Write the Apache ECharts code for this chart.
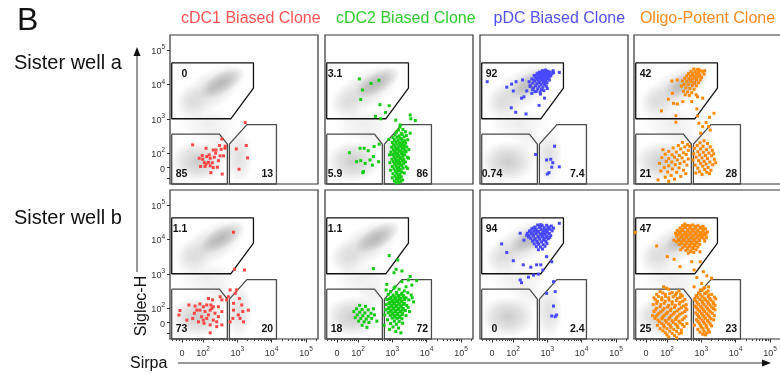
<!DOCTYPE html>
<html>
<head>
<meta charset="utf-8">
<script src="https://cdn.jsdelivr.net/npm/echarts@6/dist/echarts.min.js"></script>
<style>
html,body{margin:0;padding:0;background:#fff;}
#chart{width:780px;height:374px;}
</style>
</head>
<body>
<div id="chart"></div>
<script>
// axis units: display (logicle-like) units, 10^n sits at n, "0" sits a bit lower
var xRange = [1.04, 5.35];
var yRange = [1.10, 5.44];
var xMajor = [1.39, 2, 3, 4, 5];
var yMajor = [1.58, 2, 3, 4, 5];
var xTickLabels = ['0', '10^2', '10^3', '10^4', '10^5'];
var yTickLabels = ['0', '10^2', '10^3', '10^4', '10^5'];
var xMinor = [1.12, 1.22, 1.30, 1.50, 1.60, 1.69, 1.77, 1.84, 1.90, 1.95,
  2.30, 2.48, 2.60, 2.70, 2.78, 2.85, 2.90, 2.95,
  3.30, 3.48, 3.60, 3.70, 3.78, 3.85, 3.90, 3.95,
  4.30, 4.48, 4.60, 4.70, 4.78, 4.85, 4.90, 4.95, 5.30];
var yExtraTicks = [1.28];

var cloneNames = ['cDC1 Biased Clone', 'cDC2 Biased Clone', 'pDC Biased Clone', 'Oligo-Potent Clone'];
var wellNames = ['Sister well a', 'Sister well b'];

// gates (same in every panel)
var gateUpper = [[1.09, 4.63], [3.47, 4.63], [3.47, 3.89], [2.81, 3.00], [1.09, 3.00]];
var gateLowLeft = [[1.09, 2.55], [2.48, 2.55], [2.71, 2.26], [2.71, 1.10], [1.09, 1.10]];
var gateLowRight = [[2.77, 2.26], [3.28, 2.83], [4.14, 2.83], [4.14, 1.10], [2.77, 1.10]];

// gate percentages: upper, lower-left, lower-right
var pctWellA = [['0', '85', '13'], ['3.1', '5.9', '86'], ['92', '0.74', '7.4'], ['42', '21', '28']];
var pctWellB = [['1.1', '73', '20'], ['1.1', '18', '72'], ['94', '0', '2.4'], ['47', '25', '23']];

// background total population density: cx, cy, rx, ry, angle, alpha
var densityBlobs = [
  [2.25, 3.85, 1.15, 0.55, 32, 0.26],
  [2.55, 4.05, 0.75, 0.32, 30, 0.42],
  [1.65, 3.45, 0.50, 0.55, 0, 0.14],
  [2.15, 2.85, 0.85, 0.50, 0, 0.13],
  [2.45, 2.35, 0.50, 0.40, 0, 0.10],
  [1.85, 1.75, 0.80, 0.60, 0, 0.38],
  [3.05, 1.90, 0.40, 0.80, 0, 0.24]
];

// ---- well a ----
var cdc1A = [[3.23,2.89],[2.55,2.41],[1.70,2.24],[2.48,2.22],[2.65,2.20],[2.97,2.12],[3.26,2.22],[2.09,2.14],[2.30,2.09],[2.38,2.09],[2.53,2.11],[1.89,1.85],[1.99,1.82],[2.11,1.90],[2.21,1.85],[2.33,1.88],[2.50,1.92],[2.60,1.92],[2.16,1.73],[2.04,1.72],[2.09,1.68],[1.93,1.61],[2.06,1.61],[2.21,1.63],[2.30,1.58],[2.42,1.59],[2.23,1.43],[2.56,1.39],[3.05,1.53],[3.30,1.86],[2.64,2.14],[2.45,1.78],[2.18,1.95],[2.27,1.72],[2.37,2.00],[1.98,1.93]];

var cdc2ASparse = [[2.04,4.16],[2.38,4.03],[2.61,4.12],[2.13,3.84],[2.08,3.56],[2.64,3.41],[2.91,3.38],[2.80,3.18],[2.51,3.07],[2.66,3.00],[3.10,2.96],[3.52,3.11],[3.54,3.00],[3.67,2.95],[3.23,2.82],[3.52,2.58],
  [1.75,2.01],[2.06,2.14],[2.18,2.14],[2.30,2.07],[2.47,2.19],[2.62,2.26],[1.96,1.75],[2.08,1.78],[2.21,1.70],[2.35,1.80],[2.45,1.90],[2.60,1.75],[2.14,1.43],[2.42,1.65],[2.16,1.46]];
var cdc2ADense = [[3.22,2.76],[3.18,2.67],[3.31,2.69],[3.12,2.61],[3.26,2.58],[3.38,2.62],[3.08,2.53],[3.20,2.50],[3.29,2.54],[3.41,2.51],[3.02,2.45],[3.14,2.46],[3.24,2.43],[3.34,2.47],[3.06,2.39],[3.17,2.37],[3.27,2.40],[3.36,2.36],[3.45,2.39],[3.00,2.31],[3.10,2.33],[3.21,2.30],[3.30,2.32],[3.39,2.29],[3.04,2.24],[3.13,2.26],[3.22,2.23],[3.28,2.25],[3.35,2.22],[2.98,2.17],[3.08,2.18],[3.17,2.16],[3.25,2.19],[3.33,2.15],[3.42,2.18],[3.03,2.10],[3.12,2.11],[3.20,2.08],[3.29,2.12],[3.37,2.09],[2.96,2.03],[3.07,2.04],[3.15,2.01],[3.24,2.05],[3.32,2.02],[3.40,2.04],[3.01,1.96],[3.10,1.97],[3.19,1.94],[3.27,1.98],[3.36,1.95],[3.05,1.89],[3.14,1.90],[3.22,1.87],[3.31,1.91],[3.44,1.88],[2.99,1.82],[3.09,1.83],[3.18,1.80],[3.26,1.84],[3.34,1.81],[3.03,1.75],[3.12,1.76],[3.21,1.73],[3.29,1.77],[3.38,1.74],[3.07,1.68],[3.16,1.69],[3.24,1.66],[3.33,1.70],[3.00,1.61],[3.11,1.62],[3.19,1.59],[3.28,1.63],[3.40,1.60],[3.05,1.54],[3.15,1.55],[3.23,1.52],[3.31,1.56],[3.09,1.47],[3.18,1.48],[3.27,1.45],[3.02,1.40],[3.13,1.41],[3.22,1.38],[3.35,1.42],[3.08,1.33],[3.17,1.34],[3.26,1.31],[3.12,1.26],[3.21,1.27],[3.06,1.19],[3.16,1.20],[3.25,1.18],[3.11,1.13],[3.19,1.14],[2.95,1.50],[2.93,1.72],[3.48,2.10],[3.47,1.85],[3.44,1.55],[2.92,1.95],[2.90,2.40],[3.00,1.28],[3.30,1.22]];

var pdcASparse = [[1.25,4.08],[1.82,3.92],[1.96,4.01],[2.09,4.08],[2.01,3.81],[2.25,3.60],[2.32,3.64],[1.95,3.32],[2.08,3.19],[2.38,3.14],[2.76,3.39],[2.92,3.60],[3.35,4.35],[3.18,4.34],[2.55,3.74],[2.64,3.79],[2.40,3.81],[2.50,3.94],[2.28,4.13],
  [2.66,1.96],[3.21,2.20],[2.98,1.80],[3.10,1.82],[3.16,1.72],[3.13,1.59],[3.35,1.60],[3.05,1.43],[3.00,1.39]];
var pdcADense = [[2.86,4.40],[2.95,4.42],[3.02,4.38],[2.78,4.36],[2.90,4.34],[2.99,4.33],[3.08,4.36],[2.70,4.31],[2.82,4.30],[2.93,4.28],[3.04,4.29],[2.62,4.26],[2.75,4.25],[2.87,4.24],[2.97,4.22],[3.10,4.25],[2.68,4.20],[2.80,4.19],[2.91,4.18],[3.01,4.16],[2.55,4.16],[2.73,4.14],[2.85,4.13],[2.95,4.11],[3.06,4.13],[2.64,4.10],[2.77,4.08],[2.89,4.06],[2.99,4.05],[2.58,4.04],[2.70,4.02],[2.82,4.00],[2.93,3.99],[2.66,3.96],[2.76,3.93],[2.87,3.92],[2.97,3.95],[2.60,3.90],[2.72,3.87],[2.83,3.85],[2.79,3.78],[2.68,3.80],[2.90,3.82],[3.00,3.88],[2.84,4.36],[2.73,4.33],[2.96,4.37],[2.88,4.27],[2.79,4.22],[2.94,4.20],[3.05,4.21],[2.71,4.17],[2.83,4.16],[2.98,4.25],[2.76,4.29],[2.61,4.13],[2.87,4.10],[2.92,4.03],[2.75,4.05],[2.65,4.23],[3.13,4.31],[3.17,4.40],[2.50,3.98],[2.57,3.85],[2.47,4.08],[2.80,3.72]];

var oligoASparse = [[2.14,4.10],[2.30,4.13],[2.16,3.74],[2.04,3.57],[2.19,3.45],[2.30,3.43],[2.46,3.50],[2.72,3.50],[2.89,3.64],[3.04,3.60],[1.84,3.23],[2.87,3.29],[2.26,3.09],[2.26,2.90],[2.89,3.08],[3.37,3.16],[3.24,3.04],[3.14,2.89],[3.26,2.67],[3.04,2.77],[2.98,2.58],[3.21,2.77],[2.93,2.87]];
var oligoAUpper = [[2.78,4.45],[2.88,4.43],[2.97,4.40],[2.70,4.38],[2.82,4.37],[2.92,4.35],[3.04,4.38],[2.63,4.32],[2.75,4.31],[2.86,4.30],[2.96,4.28],[3.08,4.30],[2.58,4.25],[2.69,4.24],[2.80,4.23],[2.91,4.22],[3.01,4.20],[2.52,4.18],[2.64,4.17],[2.75,4.16],[2.86,4.14],[2.97,4.13],[2.45,4.10],[2.58,4.09],[2.70,4.08],[2.81,4.06],[2.92,4.05],[2.50,4.00],[2.62,3.99],[2.74,3.97],[2.86,3.96],[2.55,3.90],[2.67,3.88],[2.79,3.86],[2.48,3.80],[2.60,3.78],[2.72,3.76],[2.65,3.68],[2.53,3.70],[2.92,4.44],[2.74,4.27],[2.84,4.19],[2.95,4.25],[2.68,4.12],[2.78,4.02],[3.10,4.40],[2.42,3.95],[2.85,3.70]];
var oligoALowLeft = [[2.45,2.31],[2.60,2.25],[2.33,2.22],[2.52,2.18],[2.18,2.15],[2.40,2.12],[2.62,2.08],[2.05,2.05],[2.27,2.03],[2.48,2.01],[2.56,1.96],[1.95,1.97],[2.15,1.95],[2.36,1.93],[2.22,1.88],[2.44,1.86],[1.85,1.87],[2.05,1.84],[2.62,1.83],[2.30,1.80],[1.98,1.76],[2.14,1.74],[2.50,1.75],[2.38,1.70],[1.78,1.70],[2.24,1.66],[2.05,1.63],[2.58,1.65],[1.92,1.58],[2.35,1.57],[2.16,1.54],[2.48,1.50],[1.82,1.48],[2.02,1.45],[2.28,1.44],[2.12,1.35],[1.95,1.30],[2.40,1.32],[1.74,1.22],[2.22,1.24],[2.05,1.18],[2.55,1.40],[1.88,2.10],[2.66,2.20]];
var oligoALowRight = [[3.08,2.36],[2.96,2.30],[3.18,2.28],[2.88,2.22],[3.05,2.20],[3.26,2.18],[2.80,2.14],[2.98,2.12],[3.15,2.10],[3.32,2.08],[2.90,2.04],[3.06,2.02],[3.22,2.00],[2.78,1.98],[2.95,1.95],[3.12,1.93],[3.30,1.92],[2.85,1.88],[3.02,1.86],[3.18,1.84],[3.38,1.82],[2.76,1.80],[2.92,1.78],[3.08,1.76],[3.25,1.74],[2.98,1.70],[3.14,1.68],[3.33,1.66],[2.82,1.65],[3.04,1.62],[3.20,1.58],[2.90,1.56],[3.10,1.52],[3.28,1.50],[2.95,1.46],[3.16,1.44],[3.02,1.38],[3.24,1.40],[2.84,1.42],[3.42,1.72],[3.36,1.98]];

// ---- well b ----
var cdc1B = [[2.89,4.21],[2.92,3.13],[3.21,3.11],[1.33,1.93],[1.30,1.80],[1.59,2.09],[1.77,2.06],[1.91,2.12],[2.01,2.04],[2.16,2.28],[2.28,2.24],[2.50,2.33],[2.55,2.24],[2.79,2.53],[2.74,2.33],[2.98,2.53],[3.06,2.28],[2.89,2.14],[3.13,2.09],[3.16,1.90],[3.32,1.94],[2.89,1.94],[3.03,1.80],[3.08,1.70],[2.87,1.70],[2.79,1.60],[3.18,1.60],[1.75,1.85],[1.91,1.94],[2.06,1.90],[2.21,1.94],[2.35,1.85],[1.96,1.75],[2.11,1.70],[2.30,1.65],[2.45,1.75],[2.55,1.90],[1.87,1.60],[2.03,1.56],[2.21,1.51],[2.40,1.46],[2.55,1.51],[2.21,1.28],[1.70,1.70],[1.53,1.65],[2.11,2.09],[2.30,2.04],[2.45,2.04],[2.23,2.09],[2.16,1.80],[2.26,1.99],[2.01,1.65],[2.40,1.60],[1.82,1.94],[2.69,2.24],[2.94,2.43]];

var cdc2BSparse = [[2.91,3.53],[3.16,3.40],[2.45,3.15],[3.11,3.13],[3.28,3.08],[3.05,3.03],[3.52,2.92],[3.47,2.82],[3.28,2.77],[3.71,2.80],[2.84,2.69],[3.08,2.62],[2.82,2.53],[3.40,2.62],[3.57,2.67]];
var cdc2BMain = [[3.05,2.58],[3.20,2.55],[3.35,2.50],[2.95,2.48],[3.12,2.46],[3.28,2.44],[3.45,2.45],[2.88,2.40],[3.02,2.38],[3.18,2.37],[3.33,2.36],[3.55,2.38],[2.96,2.31],[3.10,2.30],[3.24,2.29],[3.40,2.30],[2.84,2.25],[3.00,2.23],[3.14,2.22],[3.28,2.21],[3.48,2.24],[2.92,2.17],[3.06,2.16],[3.20,2.15],[3.35,2.14],[3.62,2.18],[2.82,2.10],[2.98,2.09],[3.12,2.08],[3.26,2.07],[3.42,2.08],[2.90,2.02],[3.04,2.01],[3.18,2.00],[3.32,1.99],[2.80,1.95],[2.96,1.94],[3.10,1.93],[3.24,1.92],[3.38,1.93],[2.88,1.87],[3.02,1.86],[3.16,1.85],[3.30,1.86],[2.78,1.80],[2.94,1.79],[3.08,1.78],[3.22,1.77],[3.40,1.78],[3.00,1.71],[3.14,1.70],[3.28,1.69],[2.86,1.66],[3.06,1.62],[3.20,1.61],[2.95,1.55],[3.12,1.53],[3.30,1.56],[3.02,1.45],[3.18,1.42],[2.92,1.38],[3.10,1.32],[3.25,1.28],[2.76,1.50],[3.50,1.90],[3.58,2.30],[3.46,2.02],
  [3.13,2.41],[3.27,2.40],[3.05,2.34],[3.19,2.33],[3.33,2.32],[2.92,2.27],[3.07,2.26],[3.21,2.25],[3.36,2.25],[2.99,2.19],[3.13,2.19],[3.27,2.18],[2.90,2.13],[3.05,2.12],[3.19,2.11],[3.33,2.11],[2.97,2.05],[3.11,2.04],[3.25,2.03],[2.88,1.98],[3.03,1.97],[3.17,1.96],[3.31,1.96],[2.95,1.90],[3.09,1.89],[3.23,1.89],[3.01,1.82],[3.15,1.81],[3.29,1.81],[3.07,1.74],[3.21,1.73]];
var cdc2BLowLeft = [[2.05,2.08],[2.22,2.05],[1.96,1.98],[2.12,1.96],[2.30,1.95],[2.45,1.98],[1.88,1.90],[2.05,1.88],[2.20,1.86],[2.38,1.85],[1.98,1.80],[2.14,1.78],[2.30,1.76],[2.08,1.70],[2.24,1.68],[1.92,1.72],[2.40,1.70],[2.18,1.60],[2.32,1.58],[2.02,1.62],[2.12,1.50],[2.26,1.44],[2.48,1.80],[2.55,1.62]];

var pdcBSparse = [[3.35,4.47],[1.67,3.87],[1.82,3.62],[2.01,3.38],[2.30,3.26],[2.52,3.19],[2.69,3.26],[2.81,3.26],[2.98,3.50],[3.13,3.35],[2.21,2.82],[2.25,2.74],[2.45,2.90],[2.60,2.96],[2.74,2.99],[2.87,3.11],[3.18,2.77],[2.98,2.43],[3.23,2.48],[3.18,2.06],[3.13,1.77],[3.23,1.75],[3.27,1.80],[2.21,4.18],[2.32,3.98]];
var pdcBDense = [[2.72,4.42],[2.85,4.40],[2.98,4.41],[2.64,4.36],[2.78,4.35],[2.91,4.34],[3.04,4.36],[3.12,4.39],[2.55,4.31],[2.68,4.30],[2.82,4.29],[2.95,4.28],[3.08,4.30],[2.48,4.25],[2.61,4.24],[2.74,4.23],[2.87,4.22],[3.00,4.23],[3.14,4.25],[2.42,4.18],[2.54,4.18],[2.67,4.17],[2.80,4.16],[2.93,4.15],[3.06,4.17],[2.47,4.11],[2.60,4.10],[2.73,4.09],[2.86,4.08],[2.99,4.09],[3.10,4.11],[2.52,4.03],[2.65,4.02],[2.78,4.01],[2.91,4.00],[3.03,4.02],[2.57,3.95],[2.70,3.94],[2.83,3.93],[2.96,3.94],[2.62,3.87],[2.75,3.86],[2.88,3.85],[2.68,3.79],[2.80,3.78],[2.93,3.80],[2.74,3.70],[2.86,3.72],[2.78,4.38],[2.92,4.26],[2.70,4.20],[2.84,4.12],[2.95,4.05],[2.58,4.14],[2.66,4.27],[3.02,4.32],[2.76,4.04],[2.89,3.98],[2.63,3.99],[2.45,4.07],[3.18,4.33],[2.99,3.88],[2.52,4.22],[2.81,4.43],[3.07,4.06],[2.72,3.90],[2.40,4.12],[2.88,4.18],[2.60,4.33],[2.97,4.19]];

var oligoBSparse = [[1.08,4.20],[1.70,3.81],[2.01,3.50],[2.21,3.42],[2.38,3.21],[2.72,3.35],[2.97,3.35],[2.79,3.11],[3.06,3.06],[3.16,2.94],[3.30,2.87],[2.87,2.89],[3.01,2.72],[3.21,2.62],[2.79,2.62],[2.97,2.53],[3.11,2.43]];
var oligoBUpper = [[2.45,4.40],[2.60,4.41],[2.75,4.42],[2.90,4.40],[3.05,4.38],[2.38,4.33],[2.52,4.34],[2.67,4.33],[2.82,4.32],[2.97,4.33],[3.12,4.31],[2.30,4.26],[2.45,4.26],[2.60,4.25],[2.75,4.25],[2.90,4.24],[3.05,4.25],[3.18,4.22],[2.25,4.18],[2.40,4.18],[2.55,4.17],[2.70,4.17],[2.85,4.16],[3.00,4.17],[3.14,4.15],[2.28,4.10],[2.43,4.09],[2.58,4.09],[2.73,4.08],[2.88,4.08],[3.03,4.09],[2.33,4.01],[2.48,4.01],[2.63,4.00],[2.78,4.00],[2.93,4.01],[3.08,4.02],[2.28,3.93],[2.42,3.93],[2.57,3.92],[2.72,3.92],[2.87,3.93],[2.36,3.85],[2.50,3.84],[2.65,3.84],[2.80,3.85],[2.95,3.86],[2.45,3.76],[2.60,3.76],[2.75,3.77],[2.90,3.78],[2.55,3.68],[2.70,3.69],[2.85,3.70],[2.62,3.60],[2.78,3.62],[2.52,4.45],[2.68,4.37],[2.83,4.20],[2.97,4.12],[2.50,4.13],[2.64,3.96],[2.35,4.22],[3.10,3.95],[2.20,3.98],[2.40,3.70],[2.96,3.64],[3.15,4.05],
  [2.53,4.37],[2.68,4.40],[2.83,4.38],[2.98,4.36],[2.45,4.30],[2.60,4.29],[2.75,4.29],[2.90,4.28],[3.05,4.29],[2.38,4.22],[2.52,4.21],[2.67,4.21],[2.82,4.21],[2.97,4.20],[3.10,4.19],[2.33,4.14],[2.48,4.13],[2.63,4.13],[2.78,4.12],[2.93,4.12],[3.08,4.13],[2.40,4.05],[2.55,4.05],[2.70,4.04],[2.85,4.04],[3.00,4.05],[2.35,3.97],[2.50,3.97],[2.65,3.96],[2.80,3.96],[2.95,3.97],[2.43,3.89],[2.57,3.88],[2.72,3.88],[2.87,3.89],[2.52,3.80],[2.67,3.80],[2.82,3.81],[2.60,3.72],[2.77,3.73],[2.68,3.64]];
var oligoBLowLeft = [[1.90,2.62],[2.05,2.55],[1.80,2.48],[2.15,2.45],[2.35,2.50],[1.70,2.40],[1.95,2.40],[2.25,2.38],[2.45,2.35],[1.62,2.30],[1.85,2.30],[2.05,2.30],[2.30,2.28],[2.52,2.25],[1.72,2.20],[1.95,2.20],[2.15,2.18],[2.38,2.17],[1.60,2.10],[1.82,2.10],[2.05,2.08],[2.25,2.08],[2.48,2.06],[1.70,2.00],[1.92,1.99],[2.12,1.98],[2.35,1.97],[2.58,1.95],[1.62,1.90],[1.82,1.89],[2.02,1.88],[2.22,1.87],[2.45,1.86],[1.72,1.80],[1.92,1.79],[2.12,1.78],[2.32,1.77],[2.55,1.76],[1.65,1.70],[1.85,1.69],[2.05,1.68],[2.25,1.67],[2.45,1.66],[1.78,1.60],[1.98,1.59],[2.18,1.58],[2.38,1.57],[1.90,1.50],[2.10,1.49],[2.30,1.48],[2.50,1.46],[1.80,1.40],[2.00,1.40],[2.20,1.38],[2.42,1.36],[1.95,1.28],[2.15,1.26],[2.35,1.25],[2.05,1.16],[2.28,1.14],[2.58,1.55],[1.58,1.78],
  [1.98,2.58],[1.88,2.44],[2.08,2.42],[2.28,2.44],[2.40,2.40],[1.75,2.34],[1.96,2.34],[2.18,2.33],[2.38,2.31],[1.66,2.25],[1.85,2.24],[2.06,2.23],[2.27,2.22],[2.46,2.20],[1.70,2.14],[1.92,2.14],[2.15,2.12],[2.36,2.12],[2.56,2.10],[1.80,2.04],[2.02,2.03],[2.22,2.02],[2.42,2.01],[1.66,1.95],[1.88,1.94],[2.10,1.93],[2.30,1.92],[2.52,1.90],[1.76,1.85],[1.98,1.84],[2.18,1.83],[2.38,1.82],[1.68,1.76],[1.88,1.74],[2.08,1.73],[2.28,1.72],[2.50,1.71],[1.74,1.65],[1.95,1.64],[2.15,1.63],[2.35,1.62],[1.85,1.55],[2.05,1.54],[2.25,1.53],[2.45,1.52],[1.92,1.45],[2.12,1.44],[2.32,1.43],[1.88,1.34],[2.08,1.33],[2.28,1.32],[2.00,1.22],[2.22,1.20],[2.42,1.28],[1.72,1.50],[2.55,2.00]];
var oligoBLowRight = [[3.10,2.60],[3.02,2.52],[3.20,2.50],[2.92,2.44],[3.10,2.42],[3.30,2.40],[2.85,2.36],[3.02,2.34],[3.20,2.33],[3.38,2.32],[2.80,2.26],[2.96,2.25],[3.12,2.24],[3.28,2.23],[2.88,2.16],[3.04,2.15],[3.20,2.14],[3.36,2.13],[2.82,2.06],[2.98,2.05],[3.14,2.04],[3.30,2.03],[2.90,1.96],[3.06,1.95],[3.22,1.94],[3.40,1.95],[2.84,1.86],[3.00,1.85],[3.16,1.84],[3.32,1.85],[2.92,1.76],[3.08,1.75],[3.24,1.74],[2.86,1.66],[3.02,1.65],[3.18,1.64],[3.36,1.66],[2.94,1.56],[3.10,1.55],[3.26,1.54],[3.00,1.45],[3.16,1.44],[2.90,1.38],[3.08,1.32],[3.24,1.30],[3.12,1.22],[2.80,1.50],
  [3.06,2.56],[3.15,2.46],[2.97,2.40],[3.22,2.38],[2.90,2.31],[3.08,2.29],[3.25,2.28],[3.42,2.27],[2.84,2.21],[3.02,2.20],[3.18,2.19],[3.34,2.18],[2.92,2.11],[3.08,2.10],[3.25,2.09],[3.40,2.08],[2.86,2.01],[3.02,2.00],[3.18,1.99],[3.35,1.99],[2.95,1.91],[3.10,1.90],[3.27,1.89],[2.88,1.81],[3.04,1.80],[3.20,1.79],[3.38,1.78],[2.96,1.71],[3.12,1.70],[3.28,1.69],[2.90,1.61],[3.06,1.60],[3.22,1.59],[2.98,1.50],[3.14,1.49],[3.30,1.48],[3.05,1.40],[3.20,1.37],[2.96,1.30],[3.16,1.28],[3.04,1.24]];

var panelPoints = [
  cdc1A, cdc2ASparse.concat(cdc2ADense), pdcASparse.concat(pdcADense), oligoASparse.concat(oligoAUpper, oligoALowLeft, oligoALowRight),
  cdc1B, cdc2BSparse.concat(cdc2BMain, cdc2BLowLeft), pdcBSparse.concat(pdcBDense), oligoBSparse.concat(oligoBUpper, oligoBLowLeft, oligoBLowRight)
];

var titleColors = ['#ff5252', '#2ecc2e', '#5252f0', '#ff8a1c'];
var dotColors = ['#ff4545', '#12cc12', '#4848ff', '#ff8a00'];

var FONT = 'Liberation Sans, Arial, sans-serif';
var gridLeft = [170, 325, 480, 634];
var gridTop = [35, 190];
var GW = 148, GH = 149;

var chart = echarts.init(document.getElementById('chart'));

var rich = {
  b: {fontSize: 9, color: '#333', fontFamily: FONT, lineHeight: 12, verticalAlign: 'bottom'},
  s: {fontSize: 6.5, color: '#333', fontFamily: FONT, lineHeight: 12, verticalAlign: 'top'}
};
function fmt(s) {
  var p = s.split('^');
  return p.length > 1 ? '{b|' + p[0] + '}{s|' + p[1] + '}' : '{b|' + s + '}';
}
function tickText(v, vals, labels) {
  for (var i = 0; i < vals.length; i++) {
    if (Math.abs(vals[i] - v) < 1e-6) return fmt(labels[i]);
  }
  return '';
}

function renderBlob(params, api) {
  var c = api.coord([api.value(0), api.value(1)]);
  var s = api.size([api.value(2), api.value(3)]);
  var a = api.value(5);
  return {
    type: 'circle',
    shape: {cx: 0, cy: 0, r: 10},
    x: c[0], y: c[1],
    scaleX: s[0] / 10, scaleY: s[1] / 10,
    rotation: api.value(4) * Math.PI / 180,
    silent: true,
    style: {
      fill: {
        type: 'radial', x: 0.5, y: 0.5, r: 0.5,
        colorStops: [
          {offset: 0, color: 'rgba(120,120,120,' + a + ')'},
          {offset: 0.5, color: 'rgba(120,120,120,' + (a * 0.6) + ')'},
          {offset: 1, color: 'rgba(120,120,120,0)'}
        ]
      }
    }
  };
}

var grids = [], xAxes = [], yAxes = [], series = [], graphics = [];

for (var p = 0; p < 8; p++) {
  var r = Math.floor(p / 4), c = p % 4;
  var bottomRow = r === 1, leftCol = c === 0;
  grids.push({
    left: gridLeft[c], top: gridTop[r], width: GW, height: GH,
    containLabel: false, outerBoundsMode: 'none',
    show: true, borderColor: '#333', borderWidth: 1.2, backgroundColor: 'transparent'
  });
  xAxes.push({
    gridIndex: p, type: 'value', min: xRange[0], max: xRange[1], position: 'bottom',
    splitLine: {show: false}, axisLine: {show: false},
    axisTick: {show: bottomRow, customValues: xMajor, length: 3.5, lineStyle: {color: '#333', width: 1}},
    axisLabel: {
      show: bottomRow, customValues: xMajor, margin: 7, rich: rich,
      formatter: function (v) { return tickText(v, xMajor, xTickLabels); }
    }
  });
  yAxes.push({
    gridIndex: p, type: 'value', min: yRange[0], max: yRange[1], position: 'left',
    splitLine: {show: false}, axisLine: {show: false},
    axisTick: {show: leftCol, customValues: yMajor.concat(yExtraTicks), length: 3, lineStyle: {color: '#333', width: 1}},
    axisLabel: {
      show: leftCol, customValues: yMajor, margin: 5, rich: rich,
      formatter: function (v) { return tickText(v, yMajor, yTickLabels); }
    }
  });

  series.push({
    type: 'custom', coordinateSystem: 'cartesian2d', xAxisIndex: p, yAxisIndex: p,
    data: densityBlobs, renderItem: renderBlob, clip: true, silent: true, z: 1
  });

  [gateUpper, gateLowLeft, gateLowRight].forEach(function (g, gi) {
    series.push({
      type: 'line', xAxisIndex: p, yAxisIndex: p, data: g.concat([g[0]]),
      symbol: 'none', silent: true, clip: false, z: 3,
      lineStyle: {color: gi === 0 ? '#111' : '#4a4a4a', width: 1.3}
    });
  });

  series.push({
    type: 'scatter', xAxisIndex: p, yAxisIndex: p, data: panelPoints[p],
    symbol: 'rect', symbolSize: 3, silent: true, z: 4,
    itemStyle: {color: dotColors[c], opacity: 1}
  });

  var pct = (r === 0 ? pctWellA : pctWellB)[c];
  var L = gridLeft[c], T = gridTop[r];
  [0, 1].forEach(function (k) {
    var t = pct[k];
    var cx = t === '0' ? 14.3 : (t.indexOf('.') >= 0 ? (t.length > 3 ? 12 : 10) : 11.6);
    graphics.push({
      type: 'text', x: L + cx, y: T + (k === 0 ? 39 : 139), z: 10,
      style: {text: t, fontSize: 10.5, fontWeight: 'bold', fontFamily: FONT, fill: '#111', align: 'center', verticalAlign: 'middle'}
    });
  });
  graphics.push({
    type: 'text', x: L + 97.3, y: T + 139, z: 10,
    style: {text: pct[2], fontSize: 10.5, fontWeight: 'bold', fontFamily: FONT, fill: '#111', align: 'center', verticalAlign: 'middle'}
  });
}

// minor ticks along the bottom row
for (var cc = 0; cc < 4; cc++) {
  xAxes.push({
    gridIndex: 4 + cc, type: 'value', min: xRange[0], max: xRange[1], position: 'bottom',
    splitLine: {show: false}, axisLine: {show: false}, axisLabel: {show: false},
    axisTick: {show: true, customValues: xMinor, length: 2, lineStyle: {color: '#444', width: 1}}
  });
}

// titles
var titleX = [250.8, 405.8, 559.3, 707.5];
cloneNames.forEach(function (n, i) {
  graphics.push({
    type: 'text', x: titleX[i], y: 19,
    style: {text: n, fontSize: 16, fontFamily: FONT, fill: titleColors[i], align: 'center', verticalAlign: 'middle'}
  });
});
graphics.push({type: 'text', x: 17, y: 21, style: {text: 'B', fontSize: 32, fontFamily: FONT, fill: '#111', align: 'left', verticalAlign: 'middle'}});
graphics.push({type: 'text', x: 14, y: 63, style: {text: wellNames[0], fontSize: 20, fontFamily: FONT, fill: '#111', align: 'left', verticalAlign: 'middle'}});
graphics.push({type: 'text', x: 14, y: 218, style: {text: wellNames[1], fontSize: 20, fontFamily: FONT, fill: '#111', align: 'left', verticalAlign: 'middle'}});

// axis arrows and titles
graphics.push({type: 'line', shape: {x1: 137, y1: 272, x2: 137, y2: 54}, style: {stroke: '#777', lineWidth: 1.5}});
graphics.push({type: 'polygon', shape: {points: [[137, 47], [133.5, 56], [140.5, 56]]}, style: {fill: '#111'}});
graphics.push({type: 'line', shape: {x1: 178, y1: 363, x2: 764, y2: 363}, style: {stroke: '#777', lineWidth: 1.5}});
graphics.push({type: 'polygon', shape: {points: [[771, 363], [762, 359.5], [762, 366.5]]}, style: {fill: '#111'}});
graphics.push({type: 'text', x: 142, y: 306, rotation: Math.PI / 2,
  style: {text: 'Siglec-H', fontSize: 16, fontFamily: FONT, fill: '#111', align: 'center', verticalAlign: 'middle'}});
graphics.push({type: 'text', x: 130, y: 364,
  style: {text: 'Sirpa', fontSize: 16, fontFamily: FONT, fill: '#111', align: 'left', verticalAlign: 'middle'}});

chart.setOption({
  animation: false,
  grid: grids,
  xAxis: xAxes,
  yAxis: yAxes,
  series: series,
  graphic: graphics
});
window.addEventListener('resize', function () { chart.resize(); });
</script>
</body>
</html>
